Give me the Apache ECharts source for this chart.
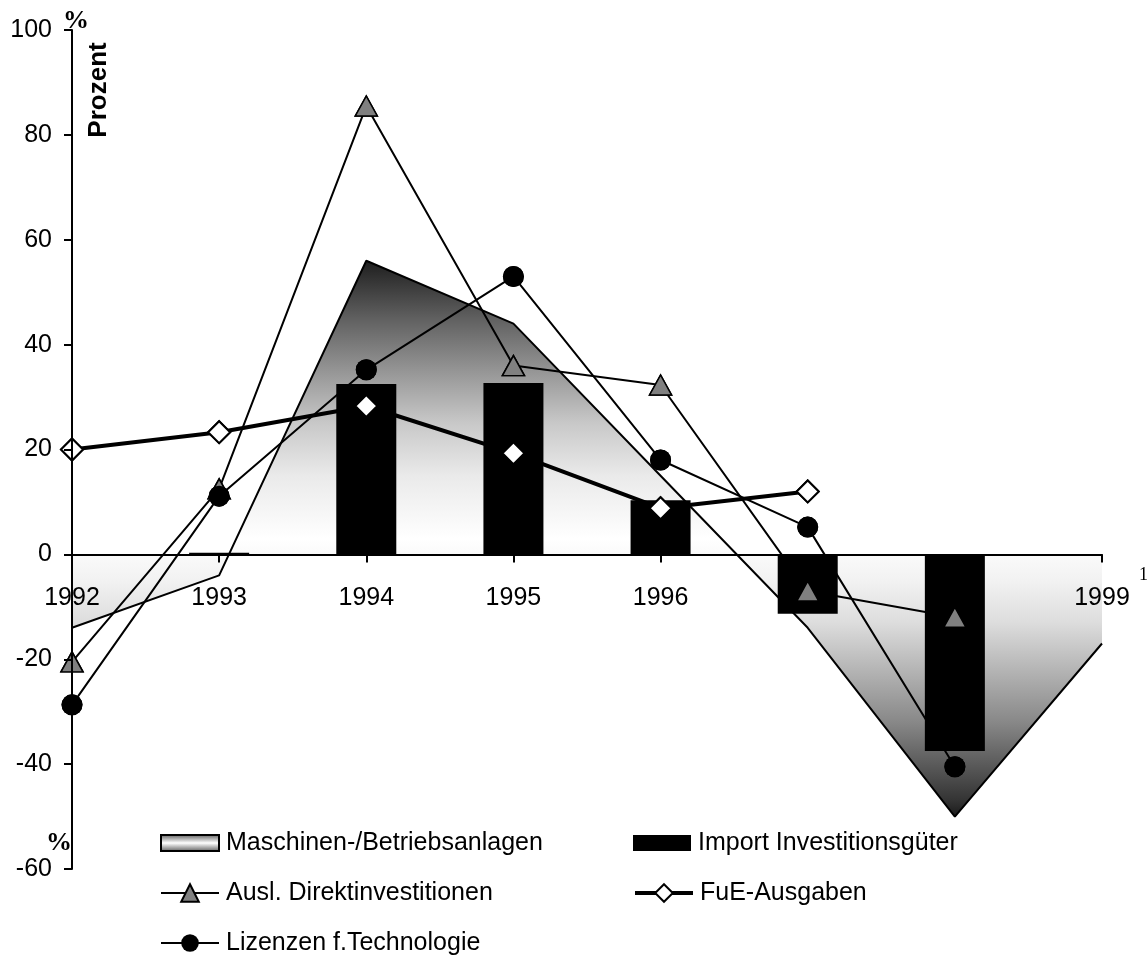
<!DOCTYPE html>
<html>
<head>
<meta charset="utf-8">
<script src="https://cdn.jsdelivr.net/npm/echarts@6/dist/echarts.min.js"></script>
<style>
html,body{margin:0;padding:0;background:#fff;}
#chart{width:1148px;height:961px;}
</style>
</head>
<body>
<div id="chart"></div>
<script>
var years = ['1992','1993','1994','1995','1996','1997','1998','1999'];
var yTicks = [-60, -40, -20, 0, 20, 40, 60, 80, 100];
var maschinen = [-14, -4, 56, 44, 15, -14, -50, -17];
var importInv = [null, 0.3, 32.5, 32.7, 10.3, -11.3, -37.5, null];
var auslDI = [-20.5, 12.5, 85.5, 36, 32.3, -7, -12, null];
var fue = [20, 23.3, 28.3, 19.3, 8.8, 12, null, null];
var lizenzen = [-28.7, 11.1, 35.2, 53, 18, 5.2, -40.5, null];

var names = {
  m: 'Maschinen-/Betriebsanlagen',
  i: 'Import Investitionsgüter',
  a: 'Ausl. Direktinvestitionen',
  f: 'FuE-Ausgaben',
  l: 'Lizenzen f.Technologie'
};

var FONT = 'Liberation Sans, Arial, sans-serif';
var GRID = {left: 72, right: 46, top: 30, bottom: 92};
var H = 961;
var yMin = yTicks[0], yMax = yTicks[yTicks.length - 1];
// distance from grid bottom to the zero line, used to place the category axis on zero
var zeroOffset = -(H - GRID.top - GRID.bottom) * (0 - yMin) / (yMax - yMin);

var chart = echarts.init(document.getElementById('chart'), null, {renderer: 'canvas'});

var areaGrad = new echarts.graphic.LinearGradient(0, 0, 0, 1, [
  {offset: 0, color: '#1e1e1e'},
  {offset: 0.104, color: '#606060'},
  {offset: 0.198, color: '#959595'},
  {offset: 0.292, color: '#c8c8c8'},
  {offset: 0.387, color: '#eaeaea'},
  {offset: 0.5, color: '#ffffff'},
  {offset: 0.575, color: '#f2f2f2'},
  {offset: 0.651, color: '#dddddd'},
  {offset: 0.83, color: '#888888'},
  {offset: 0.972, color: '#333333'},
  {offset: 1, color: '#1a1a1a'}
]);
var legendGrad = new echarts.graphic.LinearGradient(0, 0, 0, 1, [
  {offset: 0, color: '#555'},
  {offset: 0.5, color: '#fff'},
  {offset: 1, color: '#555'}
]);

function legendAt(name, left, cy, extra) {
  var l = {
    data: [name],
    left: left,
    top: cy - 13,
    padding: 0,
    itemWidth: 58,
    itemHeight: 22,
    itemGap: 0,
    selectedMode: false,
    textStyle: {fontFamily: FONT, fontSize: 25, color: '#000', lineHeight: 26, padding: [0, 0, 0, 2]}
  };
  for (var k in extra) l[k] = extra[k];
  return l;
}

var option = {
  animation: false,
  backgroundColor: '#fff',
  grid: {left: GRID.left, right: GRID.right, top: GRID.top, bottom: GRID.bottom, containLabel: false},
  xAxis: {
    type: 'category',
    data: years,
    boundaryGap: false,
    position: 'bottom',
    offset: zeroOffset,
    z: 1,
    axisLine: {show: true, onZero: false, lineStyle: {color: '#000', width: 2}},
    axisTick: {show: true, length: 8, alignWithLabel: true, lineStyle: {color: '#000', width: 2}},
    axisLabel: {color: '#000', fontFamily: FONT, fontSize: 25, margin: 31, interval: 0},
    splitLine: {show: false}
  },
  yAxis: {
    type: 'value',
    min: yMin,
    max: yMax,
    interval: 20,
    z: 5,
    axisLine: {show: true, onZero: false, lineStyle: {color: '#000', width: 2}},
    axisTick: {show: true, length: 8, lineStyle: {color: '#000', width: 2}},
    axisLabel: {color: '#000', fontFamily: FONT, fontSize: 25, margin: 20},
    splitLine: {show: false}
  },
  legend: [
    legendAt(names.m, 160, 843, {data: [{name: names.m, icon: 'rect', itemStyle: {color: legendGrad, borderColor: '#000', borderWidth: 2}}], itemHeight: 16}),
    legendAt(names.i, 633, 843, {data: [{name: names.i, icon: 'rect', itemStyle: {color: '#000'}}], itemHeight: 16}),
    legendAt(names.a, 160, 893, {lineStyle: {width: 2, color: '#000'}}),
    legendAt(names.f, 633, 893, {lineStyle: {width: 4, color: '#000'}}),
    legendAt(names.l, 160, 943, {lineStyle: {width: 2, color: '#000'}})
  ],
  series: [
    {
      name: names.m, type: 'line', data: maschinen, z: 0,
      symbol: 'none',
      lineStyle: {color: '#000', width: 2},
      itemStyle: {color: '#888'},
      areaStyle: {color: areaGrad, opacity: 1, origin: 0}
    },
    {
      name: names.i, type: 'bar', data: importInv, z: 3,
      barWidth: 60,
      itemStyle: {color: '#000'}
    },
    {
      name: names.a, type: 'line', data: auslDI, z: 2,
      symbol: 'triangle', symbolSize: [22, 20],
      lineStyle: {color: '#000', width: 2},
      itemStyle: {color: '#808080', borderColor: '#000', borderWidth: 1.5}
    },
    {
      name: names.f, type: 'line', data: fue, z: 2,
      symbol: 'diamond', symbolSize: 22,
      lineStyle: {color: '#000', width: 4},
      itemStyle: {color: '#fff', borderColor: '#000', borderWidth: 2}
    },
    {
      name: names.l, type: 'line', data: lizenzen, z: 2,
      symbol: 'circle', symbolSize: 21,
      lineStyle: {color: '#000', width: 2},
      itemStyle: {color: '#000'}
    },
    {
      name: 'a_marks', type: 'scatter', data: auslDI, z: 4,
      symbol: 'triangle', symbolSize: [22, 20],
      itemStyle: {color: '#808080', borderColor: '#000', borderWidth: 1.5, opacity: 1}
    },
    {
      name: 'f_marks', type: 'scatter', data: fue, z: 4,
      symbol: 'diamond', symbolSize: 22,
      itemStyle: {color: '#fff', borderColor: '#000', borderWidth: 2, opacity: 1}
    },
    {
      name: 'l_marks', type: 'scatter', data: lizenzen, z: 4,
      symbol: 'circle', symbolSize: 21,
      itemStyle: {color: '#000', opacity: 1}
    }
  ],
  graphic: [
    {type: 'text', left: 63, top: 8, z: 10, style: {text: '%', font: 'bold 26px "Liberation Serif", "Times New Roman", serif', fill: '#000'}},
    {type: 'text', left: 46, top: 830, z: 10, style: {text: '%', font: 'bold 26px "Liberation Serif", "Times New Roman", serif', fill: '#000'}},
    {type: 'text', x: 112, y: 90, rotation: Math.PI / 2, z: 10,
      style: {text: 'Prozent', font: 'bold 26px "Liberation Sans", Arial, sans-serif', fill: '#000', align: 'center', verticalAlign: 'bottom'}},
    {type: 'text', left: 1139, top: 566, z: 10, style: {text: '1', font: '18px "Liberation Serif", "Times New Roman", serif', fill: '#000'}}
  ]
};
chart.setOption(option);
</script>
</body>
</html>
